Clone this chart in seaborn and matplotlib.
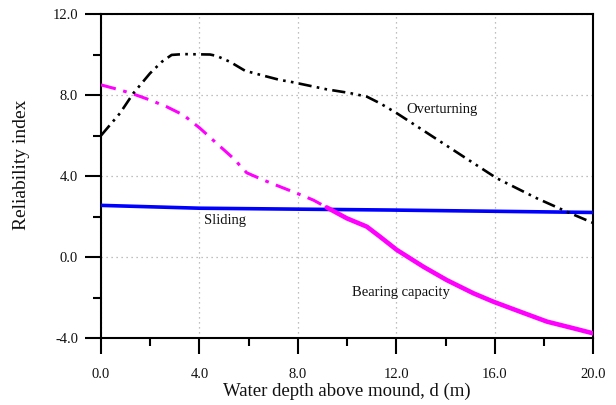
import numpy as np
import pandas as pd
import matplotlib
matplotlib.use("Agg")
import matplotlib.pyplot as plt
from matplotlib.ticker import MultipleLocator, FormatStrFormatter
import seaborn as sns

# Reliability index versus water depth above the rubble mound
depth_over = [0.0, 0.77, 1.31, 1.99, 2.47, 2.87, 3.35, 4.43, 4.7, 5.24, 5.85, 6.46, 7.28,
              7.68, 9.17, 10.1, 10.8, 11.34, 12.02, 12.97, 14.32, 16.08, 17.71, 19.07, 20.0]
beta_over = [6.0, 7.1, 8.08, 9.07, 9.64, 9.98, 10.02, 10.0, 9.93, 9.64, 9.2, 9.0, 8.74,
             8.66, 8.28, 8.1, 7.92, 7.59, 7.1, 6.35, 5.28, 3.89, 2.9, 2.16, 1.68]

depth_bear = [0.0, 0.77, 1.31, 2.0, 2.67, 3.35, 4.02, 4.7, 5.38, 5.92, 6.6, 7.28, 7.95, 8.63,
              9.17, 9.99, 10.8, 11.34, 12.02, 13.1, 14.05, 15.13, 15.95, 17.03, 18.12, 19.2, 20.0]
beta_bear = [8.5, 8.25, 8.05, 7.75, 7.42, 7.01, 6.36, 5.61, 4.87, 4.16, 3.8, 3.47, 3.15, 2.81,
             2.45, 1.91, 1.5, 1.0, 0.35, -0.48, -1.14, -1.79, -2.21, -2.7, -3.19, -3.52, -3.77]

depth_slide = [0.0, 4.0, 11.75, 20.0]
beta_slide = [2.55, 2.41, 2.32, 2.2]

labels = {"Overturning": (12.4, 7.26), "Sliding": (4.2, 1.78), "Bearing capacity": (10.2, -1.73)}

sns.set_theme(style="white")
plt.rcParams["font.family"] = ["Liberation Serif", "DejaVu Serif"]

fig = plt.figure(figsize=(6.16, 4.05), dpi=100)
ax = fig.add_axes([0.164, 0.1654, 0.799, 0.8])

over = pd.DataFrame({"d": depth_over, "beta": beta_over})
bear = pd.DataFrame({"d": depth_bear, "beta": beta_bear})
slide = pd.DataFrame({"d": depth_slide, "beta": beta_slide})
switch = 9.17
bear_a = bear[bear["d"] <= switch]
bear_b = bear[bear["d"] >= switch]

sns.lineplot(data=slide, x="d", y="beta", ax=ax, color="#0000ff", lw=2.6, sort=False, zorder=3)
sns.lineplot(data=bear_a, x="d", y="beta", ax=ax, color="#ff00ff", lw=2.2, sort=False, zorder=4)
ax.lines[-1].set_dashes([5, 2.5, 1.2, 2.5])
sns.lineplot(data=bear_b, x="d", y="beta", ax=ax, color="#ff00ff", lw=3.3, sort=False, zorder=4)
sns.lineplot(data=over, x="d", y="beta", ax=ax, color="black", lw=1.9, sort=False, zorder=5)
ax.lines[-1].set_dashes([5, 2, 1, 2, 1, 2])
for ln in ax.lines:
    ln.set_solid_joinstyle("round")
    ln.set_dash_joinstyle("round")

for text, (x, y) in labels.items():
    ax.text(x, y, text, fontsize=10.5, ha="left", va="center", color="#111111")

ax.set_xlim(0, 20)
ax.set_ylim(-4, 12)
ax.xaxis.set_major_locator(MultipleLocator(4))
ax.xaxis.set_minor_locator(MultipleLocator(2))
ax.yaxis.set_major_locator(MultipleLocator(4))
ax.yaxis.set_minor_locator(MultipleLocator(2))
ax.xaxis.set_major_formatter(FormatStrFormatter("%.1f"))
ax.yaxis.set_major_formatter(FormatStrFormatter("%.1f"))
ax.tick_params(which="major", direction="out", length=11.5, width=1.5, color="black",
               labelsize=10.5, labelcolor="#111111")
ax.tick_params(which="minor", direction="out", length=5.8, width=1.5, color="black")
ax.tick_params(axis="x", which="both", bottom=True, top=False, pad=10)
ax.tick_params(axis="y", which="both", left=True, right=False, pad=5)

ax.grid(True, which="major", linestyle=(0, (1, 3)), color="#aaaaaa", lw=0.9)
for s in ax.spines.values():
    s.set_visible(True)
    s.set_color("black")
    s.set_linewidth(1.5)

ax.set_xlabel("Water depth above mound, d (m)", fontsize=13.5, color="#111111", labelpad=1)
ax.set_ylabel("Reliability index", fontsize=14, color="#111111")
ax.yaxis.set_label_coords(-0.144, 0.534)

fig.savefig("out.png", dpi=100)
